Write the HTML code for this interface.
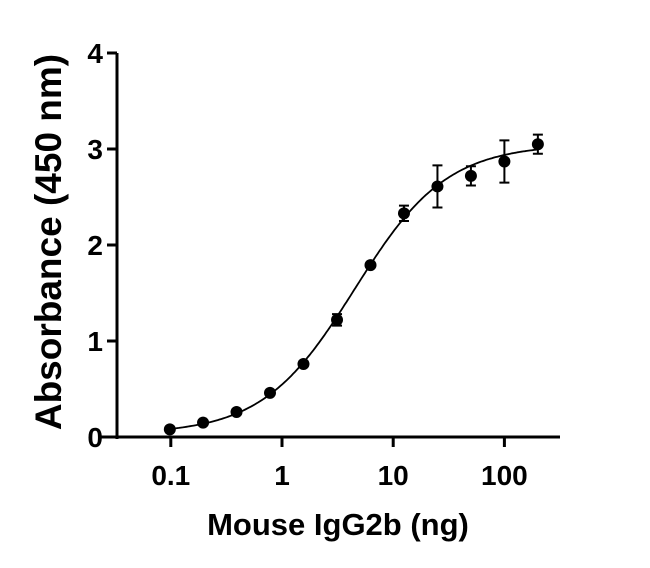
<!DOCTYPE html>
<html><head><meta charset="utf-8"><style>body{margin:0;background:#fff}svg{display:block}text{font-family:"Liberation Sans",Arial,sans-serif;font-weight:bold;fill:#000}</style></head>
<body>
<svg id="chart" width="650" height="568" viewBox="0 0 650 568" xmlns="http://www.w3.org/2000/svg">
<g id="axes"></g><g id="marks"></g>
</svg>
<script>
const doses=[0.098,0.195,0.39,0.78,1.56,3.125,6.25,12.5,25,50,100,200];
const absorbance=[0.08,0.15,0.26,0.46,0.76,1.22,1.79,2.33,2.61,2.72,2.87,3.05];
const errors=[0,0,0,0,0,0.06,0,0.08,0.22,0.1,0.22,0.1];
const fitParams=[0.03,3.05,4.5,1.05]; // bottom, top, EC50, hill
const xTicks=[0.1,1,10,100];
const xTickLabels=["0.1","1","10","100"];
const yTicks=[0,1,2,3,4];
const yTickLabels=["0","1","2","3","4"];
const NS="http://www.w3.org/2000/svg";
const X=v=>282+111.2*Math.log10(v);
const Y=v=>437-96*v;
function mk(tag,attrs,parent){const e=document.createElementNS(NS,tag);for(const k in attrs)e.setAttribute(k,attrs[k]);parent.appendChild(e);return e;}
const ax=document.getElementById('axes'),mg=document.getElementById('marks');
let e=mk('line',{x1:117,y1:Y(4),x2:117,y2:439,stroke:'#000','stroke-width':3},ax);

e=mk('line',{x1:100,y1:437,x2:560,y2:437,stroke:'#000','stroke-width':3},ax);

yTicks.forEach((t,i)=>{
 const l=mk('line',{x1:107,y1:Y(t),x2:117,y2:Y(t),stroke:'#000','stroke-width':3},ax);
 
 const tx=mk('text',{x:103,y:Y(t)+10,'text-anchor':'end','font-size':28},ax);tx.textContent=yTickLabels[i];
 
});
xTicks.forEach((t,i)=>{
 const l=mk('line',{x1:X(t),y1:437,x2:X(t),y2:447,stroke:'#000','stroke-width':3},ax);
 
 const tx=mk('text',{x:X(t),y:485,'text-anchor':'middle','font-size':28},ax);tx.textContent=xTickLabels[i];
 
});
e=mk('text',{x:338,y:535,'text-anchor':'middle','font-size':31},ax);e.textContent='Mouse IgG2b (ng)';

e=mk('text',{x:0,y:0,'text-anchor':'middle','font-size':37,transform:'translate(61,242) rotate(-90)'},ax);e.textContent='Absorbance (450 nm)';

const [b,t,c,h]=fitParams;let d='';
for(let i=0;i<=200;i++){const lx=Math.log10(0.098)+i*(Math.log10(200)-Math.log10(0.098))/200;const x=Math.pow(10,lx);const y=b+(t-b)/(1+Math.pow(c/x,h));d+=(i?'L':'M')+X(x).toFixed(1)+','+Y(y).toFixed(1);}
e=mk('path',{d:d,fill:'none',stroke:'#000','stroke-width':1.8},mg);

doses.forEach((x,i)=>{
 if(errors[i]>0){const g=mk('path',{d:`M${X(x)},${Y(absorbance[i]-errors[i])}V${Y(absorbance[i]+errors[i])}M${X(x)-5},${Y(absorbance[i]-errors[i])}h10M${X(x)-5},${Y(absorbance[i]+errors[i])}h10`,stroke:'#000','stroke-width':2,fill:'none'},mg);
 }
 const p=mk('circle',{cx:X(x),cy:Y(absorbance[i]),r:6,fill:'#000'},mg);
 
});
</script>
</body></html>
